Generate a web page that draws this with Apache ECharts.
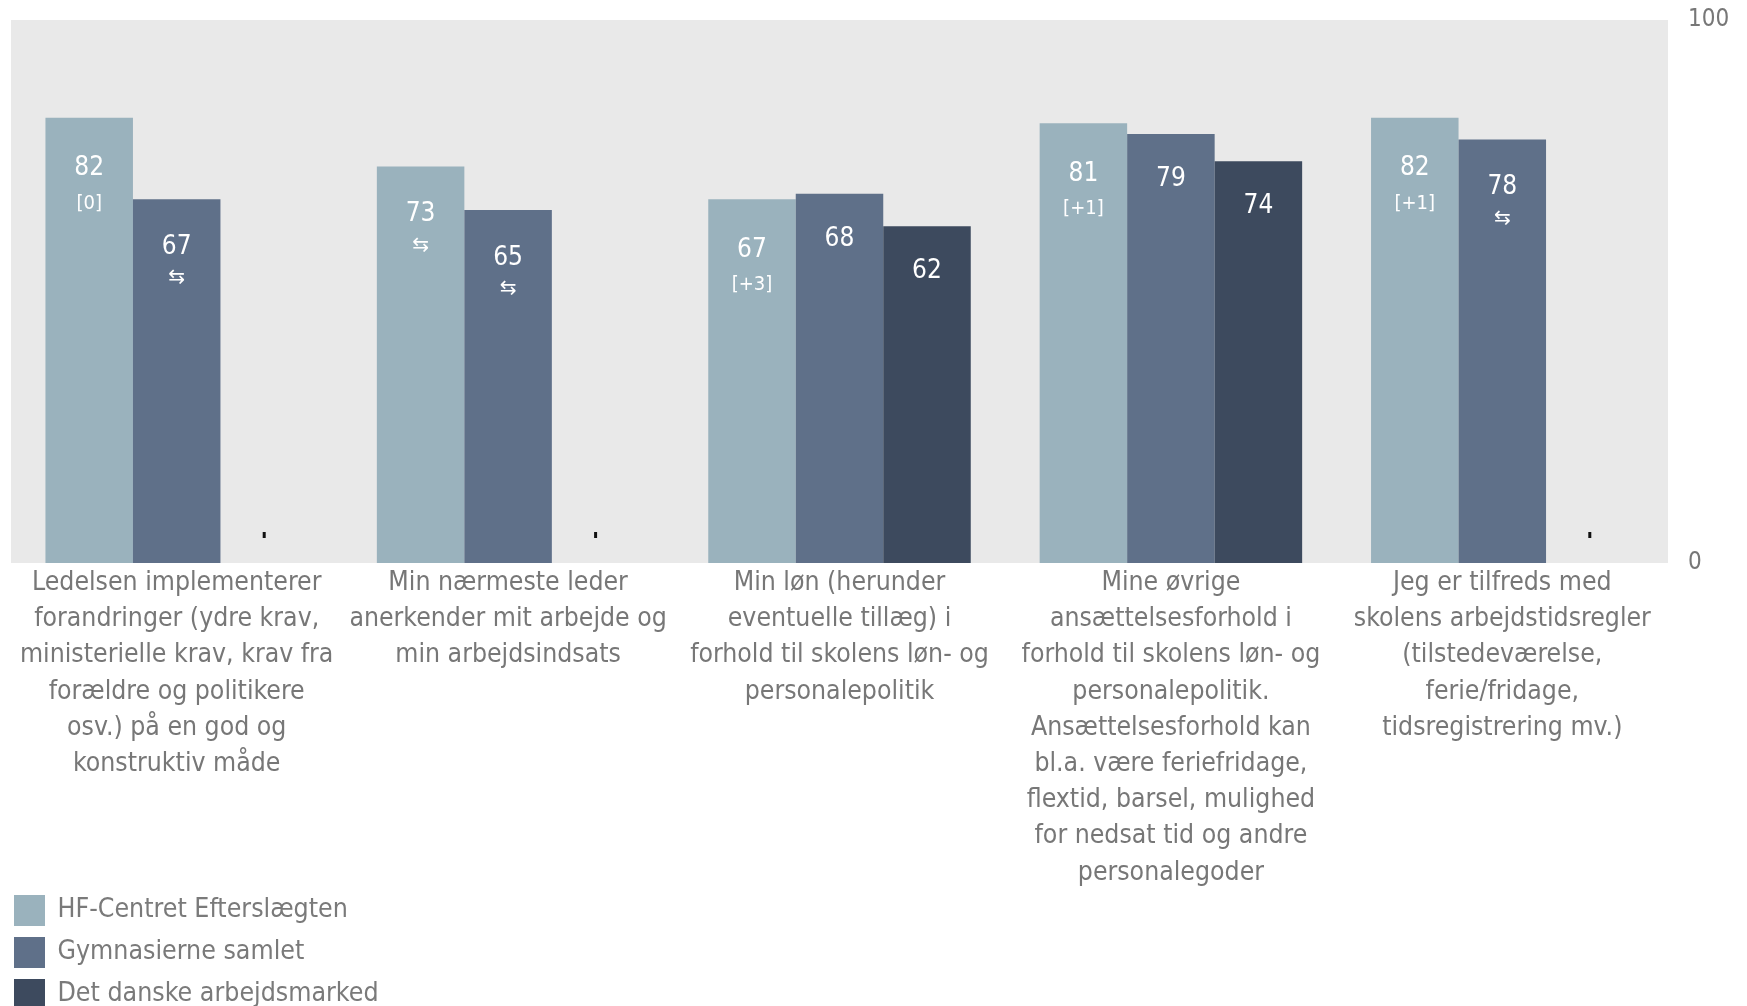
<!DOCTYPE html>
<html><head><meta charset="utf-8">
<script src="https://cdn.jsdelivr.net/npm/echarts@6/dist/echarts.min.js"></script>
<style>html,body{margin:0;padding:0;background:#fff}#c{width:1747px;height:1006px}</style>
</head><body><div id="c"></div>
<script>
const categories = [
  "Ledelsen implementerer\nforandringer (ydre krav,\nministerielle krav, krav fra\nforældre og politikere\nosv.) på en god og\nkonstruktiv måde",
  "Min nærmeste leder\nanerkender mit arbejde og\nmin arbejdsindsats",
  "Min løn (herunder\neventuelle tillæg) i\nforhold til skolens løn- og\npersonalepolitik",
  "Mine øvrige\nansættelsesforhold i\nforhold til skolens løn- og\npersonalepolitik.\nAnsættelsesforhold kan\nbl.a. være feriefridage,\nflextid, barsel, mulighed\nfor nedsat tid og andre\npersonalegoder",
  "Jeg er tilfreds med\nskolens arbejdstidsregler\n(tilstedeværelse,\nferie/fridage,\ntidsregistrering mv.)"
];
const seriesNames = ["HF-Centret Efterslægten", "Gymnasierne samlet", "Det danske arbejdsmarked"];
const hfValues = [82, 73, 67, 81, 82];
const gymValues = [67, 65, 68, 79, 78];
const dkValues = [null, null, 62, 74, null];
const hfNotes = ["[0]", "⇆", "[+3]", "[+1]", "[+1]"];
const gymNotes = ["⇆", "⇆", "", "", "⇆"];
const dkNotes = ["", "", "", "", ""];
const yTicks = [0, 100];

const colors = ["#9ab2bd", "#5f7089", "#3d4a5e"];
const FONT = "DejaVu Sans Condensed";

function fmt(notes) {
  return function (p) {
    const n = notes[p.dataIndex];
    const v = p.value;
    if (!n) return "{v|" + v + "}";
    if (n === "⇆") return "{va|" + v + "}\n{a|⇆}";
    return "{vb|" + v + "}\n{b|" + n + "}";
  };
}
const rich = {
  v: { color: "#fff", fontSize: 26, fontFamily: FONT, lineHeight: 30, align: "center" },
  va: { color: "#fff", fontSize: 26, fontFamily: FONT, lineHeight: 36, align: "center" },
  vb: { color: "#fff", fontSize: 26, fontFamily: FONT, lineHeight: 42, align: "center" },
  a: { color: "#fff", fontSize: 20, fontFamily: "DejaVu Sans", lineHeight: 26, align: "center" },
  b: { color: "#fff", fontSize: 20, fontFamily: FONT, lineHeight: 28, align: "center" }
};

function buildData(values) {
  return values.map(v => v === null
    ? { value: 0, label: { show: true, position: "top", distance: 25, formatter: "{m|}",
        rich: { m: { backgroundColor: "#111", width: 3, height: 6 } } } }
    : v);
}

function mkSeries(i, values, notes) {
  return {
    name: seriesNames[i], type: "bar", data: buildData(values),
    barWidth: 87.5, barGap: "0%",
    itemStyle: { color: colors[i] },
    label: { show: true, position: "insideTop", distance: 30, formatter: fmt(notes), rich: rich },
    emphasis: { disabled: true }
  };
}

const chart = echarts.init(document.getElementById("c"), null, { renderer: "canvas" });
chart.setOption({
  animation: false,
  backgroundColor: "#fff",
  grid: { left: 11, right: 79, top: 20, bottom: 443, show: true, backgroundColor: "#e9e9e9", borderWidth: 0, containLabel: false },
  legend: {
    orient: "vertical", left: 14, top: 895, height: 200, padding: 0, itemWidth: 31, itemHeight: 31, itemGap: 11,
    icon: "rect",
    textStyle: { color: "#7a7a7a", fontSize: 26.5, fontFamily: FONT, padding: [0, 0, 0, 7.5] },
    data: seriesNames
  },
  xAxis: {
    type: "category", data: categories,
    axisLine: { show: false }, axisTick: { show: false },
    axisLabel: { interval: 0, margin: 2, color: "#777", fontSize: 26.4, lineHeight: 36.2, fontFamily: FONT, verticalAlign: "top" }
  },
  yAxis: {
    type: "value", position: "right", min: 0, max: 100, interval: 100,
    splitLine: { show: false }, axisLine: { show: false }, axisTick: { show: false },
    axisLabel: { margin: 20, align: "left", color: "#777", fontSize: 24, fontFamily: FONT,
      formatter: v => yTicks.includes(v) ? String(v) : "" }
  },
  series: [mkSeries(0, hfValues, hfNotes), mkSeries(1, gymValues, gymNotes), mkSeries(2, dkValues, dkNotes)]
});
</script></body></html>
